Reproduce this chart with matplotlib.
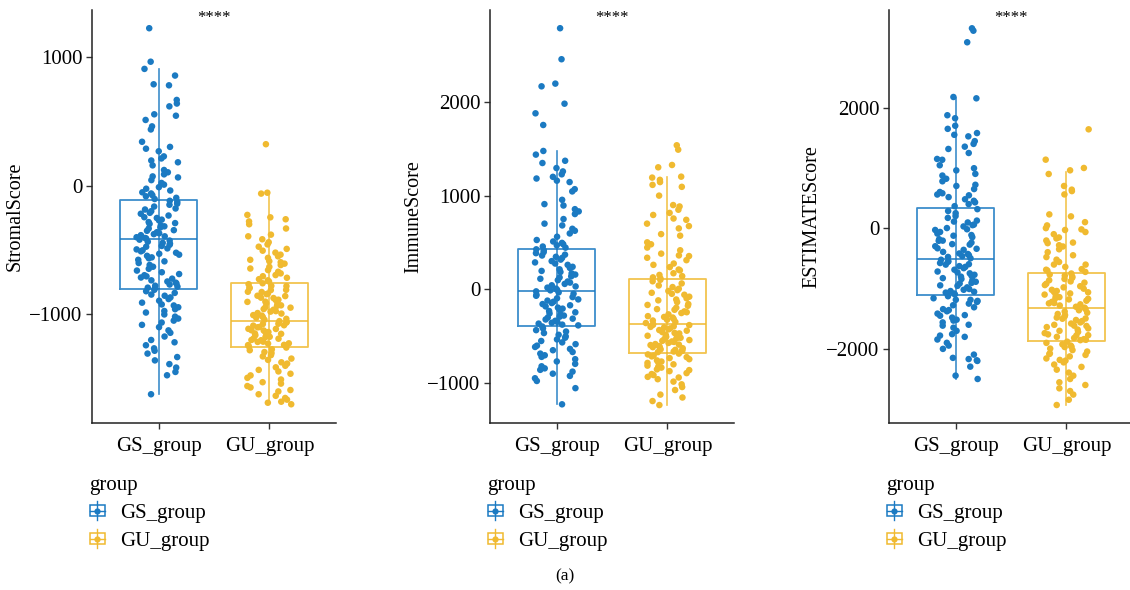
import numpy as np
import matplotlib
matplotlib.use("Agg")
from matplotlib import pyplot as plt
from matplotlib.patches import Rectangle
from matplotlib.lines import Line2D
from matplotlib.legend_handler import HandlerBase

plt.rcParams['font.family'] = ['Liberation Serif', 'DejaVu Serif']

groups = ["GS_group", "GU_group"]
colors = ["#1B7AC2", "#F0BA30"]
ylabels = ["StromalScore", "ImmuneScore", "ESTIMATEScore"]
signif = "****"

# box statistics: (whislo, q1, med, q3, whishi)
stromal_box = [(-1626, -805, -415, -111, 910), (-1704, -1257, -1052, -756, -55)]
immune_box = [(-1231, -390, -15, 435, 1481), (-1239, -679, -368, 110, 1206)]
estimate_box = [(-2503, -1113, -510, 337, 2159), (-2935, -1872, -1329, -742, 940)]

# points
stromal_gs = [1227, 966, 910, 858, 790, 782, 668, 640, 618, 556, 545, 512, 462, 438, 342, 302, 288, 268,
              228, 212, 196, 182, 158, 122, 104, 88, 72, 64, 43, 21, 8, -12, -24, -38, -52, -61, -74, -83,
              -95, -104, -118, -127, -141, -149, -163, -178, -186, -199, -212, -219, -233, -246, -252,
              -265, -271, -284, -292, -298, -311, -317, -326, -334, -347, -352, -363, -371, -378, -386,
              -395, -402, -408, -412, -421, -428, -437, -446, -452, -461, -470, -476, -489, -497, -504,
              -512, -523, -531, -538, -547, -559, -566, -578, -590, -603, -618, -632, -648, -662, -675,
              -689, -698, -707, -716, -725, -738, -747, -756, -763, -771, -780, -787, -795, -801, -812,
              -823, -836, -849, -858, -871, -884, -897, -912, -926, -934, -948, -963, -977, -989, -1004,
              -1021, -1036, -1052, -1067, -1085, -1103, -1128, -1147, -1176, -1203, -1221, -1244, -1268,
              -1287, -1309, -1336, -1362, -1391, -1418, -1452, -1478, -1626]
stromal_gu = [323, -55, -62, -228, -247, -262, -279, -301, -334, -382, -395, -418, -441, -458, -476, -493,
              -507, -522, -538, -551, -563, -578, -589, -597, -608, -619, -633, -646, -658, -671, -684,
              -697, -706, -718, -729, -738, -747, -761, -768, -781, -783, -796, -799, -812, -814, -827,
              -829, -841, -846, -858, -861, -873, -876, -889, -891, -904, -906, -917, -921, -933, -937,
              -948, -951, -962, -967, -978, -982, -993, -997, -1009, -1013, -1024, -1029, -1038, -1045,
              -1056, -1063, -1067, -1076, -1079, -1088, -1091, -1102, -1104, -1116, -1117, -1127, -1129,
              -1141, -1142, -1152, -1155, -1166, -1167, -1178, -1180, -1191, -1193, -1203, -1205, -1216,
              -1218, -1229, -1231, -1241, -1243, -1252, -1262, -1276, -1283, -1297, -1305, -1321, -1331,
              -1348, -1358, -1377, -1387, -1404, -1416, -1436, -1448, -1466, -1479, -1498, -1511, -1532,
              -1543, -1562, -1573, -1593, -1604, -1626, -1638, -1655, -1668, -1684, -1692, -1704]
immune_gs = [2795, 2463, 2202, 2173, 1987, 1884, 1759, 1481, 1442, 1376, 1352, 1298, 1262, 1231, 1204,
             1186, 1163, 1148, 1072, 1048, 958, 912, 897, 858, 834, 806, 752, 703, 684, 648, 627, 598, 563,
             528, 512, 497, 483, 471, 458, 446, 428, 417, 398, 387, 371, 362, 348, 336, 318, 302, 288,
             276, 262, 241, 229, 214, 197, 186, 171, 158, 139, 127, 113, 98, 84, 72, 58, 43, 31, 18, 7,
             -4, -11, -22, -33, -47, -58, -69, -83, -96, -108, -121, -133, -147, -158, -171, -183, -196,
             -207, -219, -232, -246, -258, -268, -281, -293, -302, -314, -323, -337, -349, -358, -367,
             -378, -386, -398, -418, -437, -452, -468, -487, -503, -518, -536, -553, -568, -587, -603,
             -617, -638, -652, -671, -688, -706, -723, -748, -772, -798, -824, -846, -862, -881, -903,
             -927, -952, -981, -1058, -1231]
immune_gu = [1542, 1495, 1331, 1306, 1206, 1196, 1172, 1148, 1118, 1097, 1003, 902, 887, 852, 818, 796,
             758, 744, 703, 677, 652, 591, 574, 503, 482, 447, 418, 382, 363, 356, 338, 312, 276, 262,
             238, 212, 203, 172, 154, 141, 128, 116, 102, 86, 63, 41, 24, 6, -9, -18, -37, -48, -58, -79,
             -96, -109, -118, -137, -158, -167, -176, -197, -212, -219, -236, -245, -254, -268, -287,
             -296, -302, -318, -326, -334, -349, -361, -374, -381, -383, -396, -402, -407, -418, -429,
             -436, -443, -458, -467, -472, -479, -488, -497, -508, -513, -519, -527, -531, -543, -552,
             -558, -563, -574, -586, -592, -597, -608, -615, -619, -631, -642, -648, -653, -661, -666,
             -672, -688, -697, -709, -718, -726, -736, -748, -761, -773, -781, -788, -803, -817, -829,
             -838, -857, -865, -876, -897, -907, -918, -937, -944, -962, -988, -1017, -1046, -1078,
             -1127, -1158, -1196, -1239]
estimate_gs = [3322, 3282, 3090, 2181, 2159, 1878, 1828, 1703, 1652, 1582, 1553, 1527, 1448, 1402, 1356,
               1318, 1251, 1152, 1138, 1047, 998, 962, 904, 876, 823, 781, 723, 703, 652, 603, 582, 561,
               548, 518, 482, 457, 431, 402, 368, 318, 287, 251, 204, 173, 128, 112, 97, 62, 52, 31, 4,
               -16, -28, -61, -88, -112, -123, -147, -182, -205, -208, -238, -263, -271, -298, -332,
               -340, -358, -392, -418, -427, -447, -463, -476, -498, -522, -548, -557, -577, -596, -603,
               -628, -641, -662, -688, -718, -733, -748, -772, -787, -803, -828, -842, -861, -888, -907,
               -917, -948, -956, -981, -1008, -1021, -1042, -1054, -1068, -1083, -1097, -1128, -1162,
               -1187, -1188, -1206, -1223, -1251, -1278, -1312, -1343, -1358, -1378, -1417, -1442,
               -1452, -1483, -1518, -1533, -1563, -1602, -1617, -1651, -1703, -1758, -1782, -1803,
               -1847, -1902, -1948, -2003, -2098, -2152, -2172, -2193, -2203, -2298, -2447, -2503]
estimate_gu = [1644, 1140, 1002, 963, 902, 703, 642, 618, 563, 231, 198, 102, 48, 3, -18, -28, -62, -98,
               -152, -168, -203, -237, -247, -281, -302, -348, -397, -448, -478, -521, -559, -602, -603,
               -641, -678, -688, -703, -724, -751, -768, -786, -803, -822, -841, -863, -882, -903, -921,
               -943, -962, -981, -1003, -1022, -1041, -1058, -1063, -1082, -1101, -1122, -1143, -1162,
               -1171, -1181, -1203, -1222, -1241, -1247, -1263, -1282, -1303, -1318, -1342, -1361,
               -1383, -1402, -1423, -1441, -1462, -1483, -1498, -1502, -1523, -1541, -1563, -1582,
               -1603, -1617, -1622, -1641, -1663, -1682, -1703, -1722, -1741, -1762, -1776, -1781,
               -1803, -1822, -1841, -1852, -1858, -1883, -1903, -1927, -1948, -1967, -1972, -1998,
               -2023, -2047, -2078, -2088, -2103, -2128, -2162, -2186, -2198, -2227, -2263, -2302,
               -2348, -2397, -2448, -2503, -2558, -2603, -2658, -2703, -2762, -2848, -2935]

panels = [
    (stromal_gs, stromal_gu, stromal_box, (-1850, 1369)),
    (immune_gs, immune_gu, immune_box, (-1431, 2990)),
    (estimate_gs, estimate_gu, estimate_box, (-3234, 3626)),
]
ticks = [[-1000, 0, 1000], [-1000, 0, 1000, 2000], [-2000, 0, 2000]]
lefts = [92, 490, 889]


class BoxKey(HandlerBase):
    def create_artists(self, legend, orig_handle, xdescent, ydescent, width, height, fontsize, trans):
        c = orig_handle.get_color()
        x0, y0 = -xdescent, -ydescent
        cx = x0 + width / 2
        cy = y0 + height / 2
        rect = Rectangle((x0, y0 + height * 0.12), width, height * 0.76, fill=False,
                         edgecolor=c, lw=1.1, transform=trans)
        vl = Line2D([cx, cx], [y0 - height * 0.15, y0 + height * 1.15], color=c, lw=1.0, transform=trans)
        hl = Line2D([x0, x0 + width], [cy, cy], color=c, lw=1.0, transform=trans)
        dot = Line2D([cx], [cy], marker='o', ms=4.5, color=c, mec='none', transform=trans)
        return [rect, vl, hl, dot]


fig = plt.figure(figsize=(11.3, 5.9), dpi=100)
W, H = 1130, 590

for k, (gs, gu, box, ylim) in enumerate(panels):
    ax = fig.add_axes([lefts[k] / W, (H - 423) / H, 244 / W, 413 / H])
    for i, b in enumerate(box):
        st = dict(whislo=b[0], q1=b[1], med=b[2], q3=b[3], whishi=b[4], label=groups[i], fliers=[])
        ax.bxp([st], positions=[i + 1], widths=0.7, showcaps=False, showfliers=False,
               boxprops=dict(color=colors[i], lw=1.3, alpha=0.85),
               whiskerprops=dict(color=colors[i], lw=1.2, alpha=0.85),
               medianprops=dict(color=colors[i], lw=1.3, alpha=0.85))
        # whisker line through the box (ggplot style)
        ax.vlines(i + 1, st['q1'], st['q3'], color=colors[i], lw=1.2, alpha=0.85, zorder=1)
    for i, vals in enumerate([gs, gu]):
        vals = np.asarray(vals)
        idx = np.arange(len(vals))
        # deterministic jitter (width 0.2 each side)
        frac = (idx * idx * 0.4142135 + idx * 0.6180340 + 0.29 * (k + 1) + 0.13 * i) % 1.0
        ax.scatter(i + 1 + (frac - 0.5) * 0.4, vals, s=22, color=colors[i], edgecolors='none', zorder=3)
    ax.set_xlim(0.4, 2.6)
    ax.set_ylim(*ylim)
    ax.set_xticks([1, 2])
    ax.set_xticklabels(groups)
    ax.set_yticks(ticks[k])
    ax.set_yticklabels([str(t).replace('-', '\u2212') for t in ticks[k]])
    ax.tick_params(labelsize=15, length=4, width=1, color='#333333', pad=3)
    ax.tick_params(axis='x', pad=6)
    for s in ['top', 'right']:
        ax.spines[s].set_visible(False)
    for s in ['left', 'bottom']:
        ax.spines[s].set_linewidth(1.1)
        ax.spines[s].set_color('#222222')
    ax.set_ylabel(ylabels[k], fontsize=14.5, labelpad=3)
    ax.text(1.5, 1.0 - 8 / 413, signif, transform=ax.get_xaxis_transform(), ha='center', va='center',
            fontsize=12)
    handles = [Line2D([], [], color=c) for c in colors]
    ax.legend(handles, groups, title='group', loc='upper left', bbox_to_anchor=(-0.01, -0.128),
              frameon=False, fontsize=15, title_fontsize=15, handler_map={Line2D: BoxKey()},
              handlelength=0.72, handleheight=0.72, handletextpad=0.75, labelspacing=0.4,
              borderaxespad=0, borderpad=0, alignment='left')

fig.text(565 / W, 1 - 576 / H, "(a)", ha='center', va='center', fontsize=12.5)

fig.savefig("out.png", dpi=100)
